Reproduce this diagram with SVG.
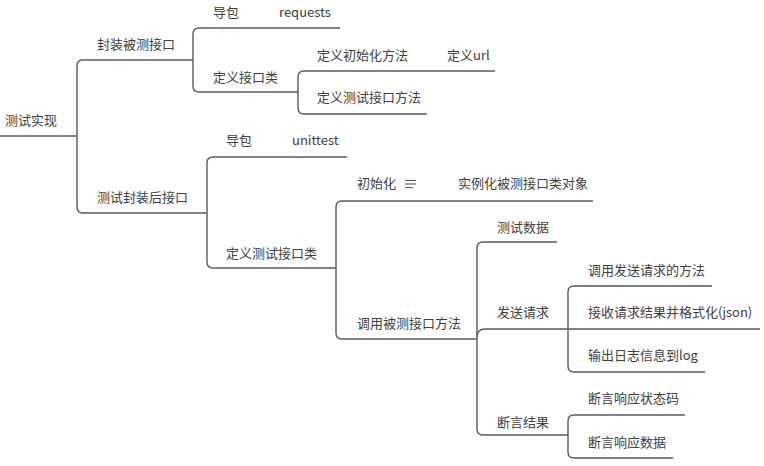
<svg xmlns="http://www.w3.org/2000/svg" width="764" height="466" viewBox="0 0 764 466">
<style>
  text { font-family: "Noto Sans CJK SC", "Noto Sans", sans-serif; font-size: 13px; fill: #404040; }
  .ln { fill: none; stroke: #5a5a5a; stroke-width: 1.4; }
  .ic { stroke: #666; stroke-width: 1.2; }
</style>
<rect width="764" height="466" fill="#ffffff"/>
<g id="connectors">
  <path class="ln" d="M0,136 H77"/>
  <path class="ln" d="M193,60 H83 Q77,60 77,66 V207 Q77,213 83,213 H207"/>
  <path class="ln" d="M340,28 H199 Q193,28 193,34 V86 Q193,92 199,92 H298"/>
  <path class="ln" d="M495,71 H304 Q298,71 298,77 V108 Q298,114 304,114 H427"/>
  <path class="ln" d="M347,157 H213 Q207,157 207,163 V262 Q207,268 213,268 H336"/>
  <path class="ln" d="M593,201 H342 Q336,201 336,207 V333 Q336,339 342,339 H477"/>
  <path class="ln" d="M557,242 H483 Q477,242 477,248 V429 Q477,435 483,435 H568"/>
  <path class="ln" d="M477,337 Q477,329 485,329 H760"/>
  <path class="ln" d="M712,286 H574 Q568,286 568,292 V366 Q568,372 574,372 H705"/>
  <path class="ln" d="M685,415 H574 Q568,415 568,421 V452 Q568,458 574,458 H673"/>
</g>
<g id="n-root"><text x="5" y="125">测试实现</text></g>
<g id="n-fengzhuang"><text x="97" y="49">封装被测接口</text></g>
<g id="n-daobao1"><text x="213" y="17">导包</text></g>
<g id="n-requests"><text x="279" y="17">requests</text></g>
<g id="n-dingyijiekoulei"><text x="213" y="82">定义接口类</text></g>
<g id="n-chushihuafangfa"><text x="317" y="60">定义初始化方法</text></g>
<g id="n-url"><text x="447" y="60">定义url</text></g>
<g id="n-ceshijiekoufangfa"><text x="317" y="102">定义测试接口方法</text></g>
<g id="n-ceshifengzhuang"><text x="97" y="202">测试封装后接口</text></g>
<g id="n-daobao2"><text x="226" y="145">导包</text></g>
<g id="n-unittest"><text x="292" y="145">unittest</text></g>
<g id="n-ceshijiekoulei"><text x="226" y="258">定义测试接口类</text></g>
<g id="n-chushihua">
  <text x="357" y="188">初始化</text>
  <line class="ic" x1="405" y1="180.5" x2="416" y2="180.5"/>
  <line class="ic" x1="405" y1="184" x2="416" y2="184"/>
  <line class="ic" x1="405" y1="187.5" x2="413" y2="187.5"/>
</g>
<g id="n-shilihua"><text x="458" y="188">实例化被测接口类对象</text></g>
<g id="n-diaoyong"><text x="357" y="328">调用被测接口方法</text></g>
<g id="n-ceshishuju"><text x="497" y="232">测试数据</text></g>
<g id="n-fasong"><text x="497" y="317">发送请求</text></g>
<g id="n-diaoyongfasong"><text x="588" y="275">调用发送请求的方法</text></g>
<g id="n-jieshou"><text x="588" y="317">接收请求结果并格式化(json)</text></g>
<g id="n-shuchu"><text x="588" y="360">输出日志信息到log</text></g>
<g id="n-duanyan"><text x="497" y="427">断言结果</text></g>
<g id="n-zhuangtaima"><text x="588" y="403">断言响应状态码</text></g>
<g id="n-shuju"><text x="588" y="447">断言响应数据</text></g>
</svg>
